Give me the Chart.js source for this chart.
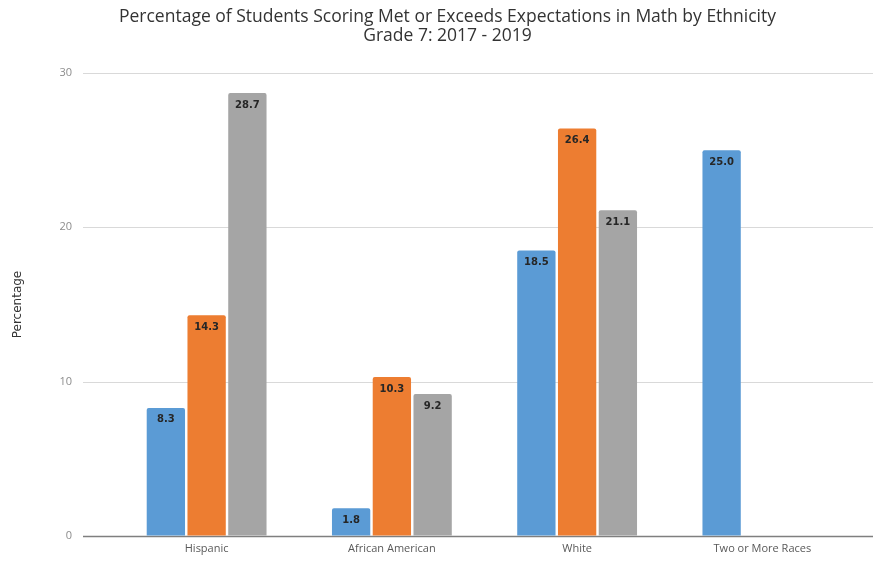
<!DOCTYPE html>
<html>
<head>
<meta charset="utf-8">
<title>Math by Ethnicity - Grade 7</title>
<script src="https://cdn.jsdelivr.net/npm/chart.js@4"></script>
<style>
    body { margin: 0; background: #ffffff; }
    canvas { display: block; }
</style>
</head>
<body>
<canvas id="grafico" width="873" height="561"></canvas>
<script>
// Categorias e valores por ano
const categorias = ['Hispanic', 'African American', 'White', 'Two or More Races'];
const anos = ['2017', '2018', '2019'];
const valores2017 = [8.3, 1.8, 18.5, 25.0];
const valores2018 = [14.3, 10.3, 26.4, null];
const valores2019 = [28.7, 9.2, 21.1, null];
const ticksY = [0, 10, 20, 30];
const tituloLinhas = [
    'Percentage of Students Scoring Met or Exceeds Expectations in Math by Ethnicity',
    'Grade 7: 2017 - 2019'
];

const cores = ['#5b9bd5', '#ed7d31', '#a5a5a5'];
const fonte = "'Open Sans', 'Liberation Sans', sans-serif";
const fonteLarga = "'DejaVu Sans', 'Open Sans', sans-serif";

// Título em duas linhas, um pouco à direita do centro do canvas
const tituloPlugin = {
    id: 'titulo',
    afterDraw(chart) {
        const ctx = chart.ctx;
        const cx = chart.width / 2 + 11;
        ctx.save();
        ctx.font = '17.5px ' + fonte;
        ctx.fillStyle = '#333333';
        ctx.textAlign = 'center';
        ctx.textBaseline = 'middle';
        tituloLinhas.forEach((linha, i) => ctx.fillText(linha, cx, 17 + i * 19));
        ctx.restore();
    }
};

// Linhas de grade horizontais, um pouco mais largas que a área das barras
const gradePlugin = {
    id: 'gradeLarga',
    beforeDatasetsDraw(chart) {
        const ctx = chart.ctx;
        const area = chart.chartArea;
        const y = chart.scales.y;
        ctx.save();
        ticksY.forEach(v => {
            const py = Math.round(y.getPixelForValue(v)) + 0.5;
            ctx.beginPath();
            ctx.strokeStyle = v === 0 ? '#7f7f7f' : '#d9d9d9';
            ctx.lineWidth = v === 0 ? 1.5 : 1;
            ctx.moveTo(area.left - 31, py);
            ctx.lineTo(area.right + 18, py);
            ctx.stroke();
        });
        ctx.restore();
    }
};

// Rótulos de valor dentro do topo de cada barra
const rotulosPlugin = {
    id: 'rotulos',
    afterDatasetsDraw(chart) {
        const ctx = chart.ctx;
        ctx.save();
        ctx.font = 'bold 10px ' + fonteLarga;
        ctx.fillStyle = '#262626';
        ctx.textAlign = 'center';
        ctx.textBaseline = 'middle';
        chart.data.datasets.forEach((ds, i) => {
            const meta = chart.getDatasetMeta(i);
            meta.data.forEach((bar, j) => {
                const v = ds.data[j];
                if (v === null || v === undefined) return;
                ctx.fillText(v.toFixed(1), bar.x, bar.y + 12);
            });
        });
        ctx.restore();
    }
};

const dados = {
    labels: categorias,
    datasets: [
        { label: anos[0], data: valores2017, backgroundColor: cores[0] },
        { label: anos[1], data: valores2018, backgroundColor: cores[1] },
        { label: anos[2], data: valores2019, backgroundColor: cores[2] }
    ].map(ds => Object.assign(ds, {
        borderRadius: 2,
        categoryPercentage: 0.66,
        barPercentage: 0.94
    }))
};

new Chart(document.getElementById('grafico'), {
    type: 'bar',
    data: dados,
    options: {
        responsive: false,
        animation: false,
        layout: { padding: { top: 73, right: 18, bottom: 0 } },
        plugins: {
            legend: { display: false },
            tooltip: { enabled: false },
            title: { display: false }
        },
        scales: {
            x: {
                afterFit(scale) { scale.height = 25; },
                grid: { display: false, drawTicks: false },
                border: { display: false },
                ticks: {
                    color: '#595959',
                    padding: 6,
                    font: { family: fonte, size: 11 }
                }
            },
            y: {
                min: 0,
                max: 30,
                afterFit(scale) { scale.width = 114; },
                afterBuildTicks(scale) { scale.ticks = ticksY.map(v => ({ value: v })); },
                // só as marcas de 31px; as linhas são desenhadas pelo plugin
                grid: {
                    drawOnChartArea: false,
                    drawTicks: true,
                    tickLength: 31,
                    color: 'rgba(0,0,0,0)'
                },
                border: { display: false },
                ticks: {
                    color: '#8c8c8c',
                    padding: 11,
                    font: { family: fonte, size: 11 }
                },
                title: {
                    display: true,
                    text: 'Percentage',
                    color: '#333333',
                    font: { family: fonteLarga, size: 12 },
                    padding: { top: 11, bottom: 0 }
                }
            }
        }
    },
    plugins: [gradePlugin, rotulosPlugin, tituloPlugin]
});
</script>
</body>
</html>
